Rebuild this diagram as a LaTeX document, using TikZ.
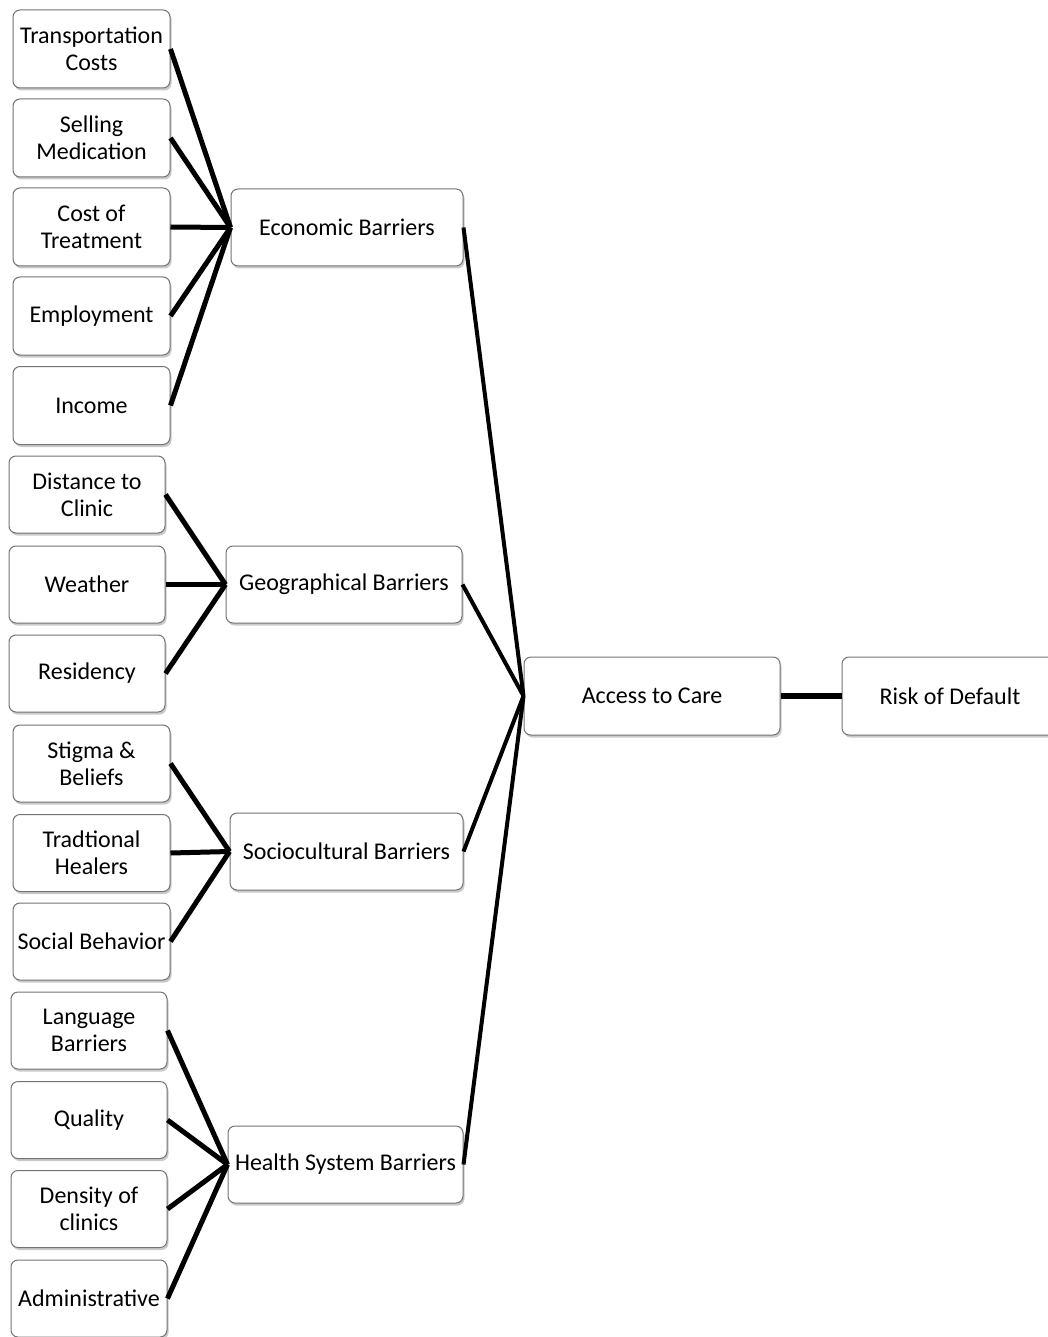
\documentclass[tikz,border=0pt]{standalone}
\usepackage{fontspec}
\setmainfont{Carlito}
\usetikzlibrary{shadows}
\begin{document}
\begin{tikzpicture}[x=1pt,y=-1pt,
  box/.style={draw=black!55, line width=1pt, fill=white, rounded corners=7pt,
    inner sep=0pt, align=center, font=\fontsize{24}{27}\selectfont,
    drop shadow={shadow xshift=1.5pt, shadow yshift=-2.5pt, opacity=0.35, fill=black!60}},
  conn/.style={line width=5pt, black},
  conn2/.style={line width=4pt, black},
  conn3/.style={line width=6pt, black}]
\useasboundingbox (0,0) rectangle (1047,1337);
% economic
\node[box, minimum width=157pt, minimum height=78pt] (tc) at (91.5,49) {Transportation\\Costs};
\node[box, minimum width=157pt, minimum height=78pt] (sm) at (91.5,138) {Selling\\Medication};
\node[box, minimum width=157pt, minimum height=78pt] (ct) at (91.5,227) {Cost of\\Treatment};
\node[box, minimum width=157pt, minimum height=78pt] (em) at (91.5,316) {Employment};
\node[box, minimum width=157pt, minimum height=78pt] (in) at (91.5,405.5) {Income};
\node[box, minimum width=232pt, minimum height=77pt] (eb) at (347,227.5) {Economic Barriers};
% geographical
\node[box, minimum width=156pt, minimum height=77pt] (dc) at (87,494.5) {Distance to\\Clinic};
\node[box, minimum width=156pt, minimum height=77pt] (we) at (87,584.5) {Weather};
\node[box, minimum width=156pt, minimum height=77pt] (re) at (87,673.5) {Residency};
\node[box, minimum width=236pt, minimum height=77pt] (gb) at (344,584.5) {Geographical Barriers};
% sociocultural
\node[box, minimum width=157pt, minimum height=77pt] (sb) at (91.5,763.5) {Stigma \&\\Beliefs};
\node[box, minimum width=157pt, minimum height=77pt] (th) at (91.5,853) {Tradtional\\Healers};
\node[box, minimum width=157pt, minimum height=77pt] (so) at (91.5,941.5) {Social Behavior};
\node[box, minimum width=233pt, minimum height=77pt] (scb) at (346.5,851.5) {Sociocultural Barriers};
% health system
\node[box, minimum width=156pt, minimum height=77pt] (lb) at (89,1030.5) {Language\\Barriers};
\node[box, minimum width=156pt, minimum height=77pt] (qu) at (89,1120) {Quality};
\node[box, minimum width=156pt, minimum height=77pt] (dn) at (89,1209) {Density of\\clinics};
\node[box, minimum width=156pt, minimum height=77pt] (ad) at (89,1298.5) {Administrative};
\node[box, minimum width=235pt, minimum height=77pt] (hb) at (345.5,1164.5) {Health System Barriers};
% right
\node[box, minimum width=256pt, minimum height=78pt] (ac) at (652,696) {Access to Care};
\node[box, minimum width=216pt, minimum height=78pt] (rd) at (950,696) {Risk of Default};
% connectors
\foreach \c in {tc,sm,ct,em,in} \draw[conn] (\c.east) -- (eb.west);
\foreach \c in {dc,we,re} \draw[conn] (\c.east) -- (gb.west);
\foreach \c in {sb,th,so} \draw[conn] (\c.east) -- (scb.west);
\foreach \c in {lb,qu,dn,ad} \draw[conn] (\c.east) -- (hb.west);
\foreach \c in {eb,gb,scb,hb} \draw[conn2] (\c.east) -- (ac.west);
\draw[conn3] (ac.east) -- (rd.west);
\end{tikzpicture}
\end{document}
